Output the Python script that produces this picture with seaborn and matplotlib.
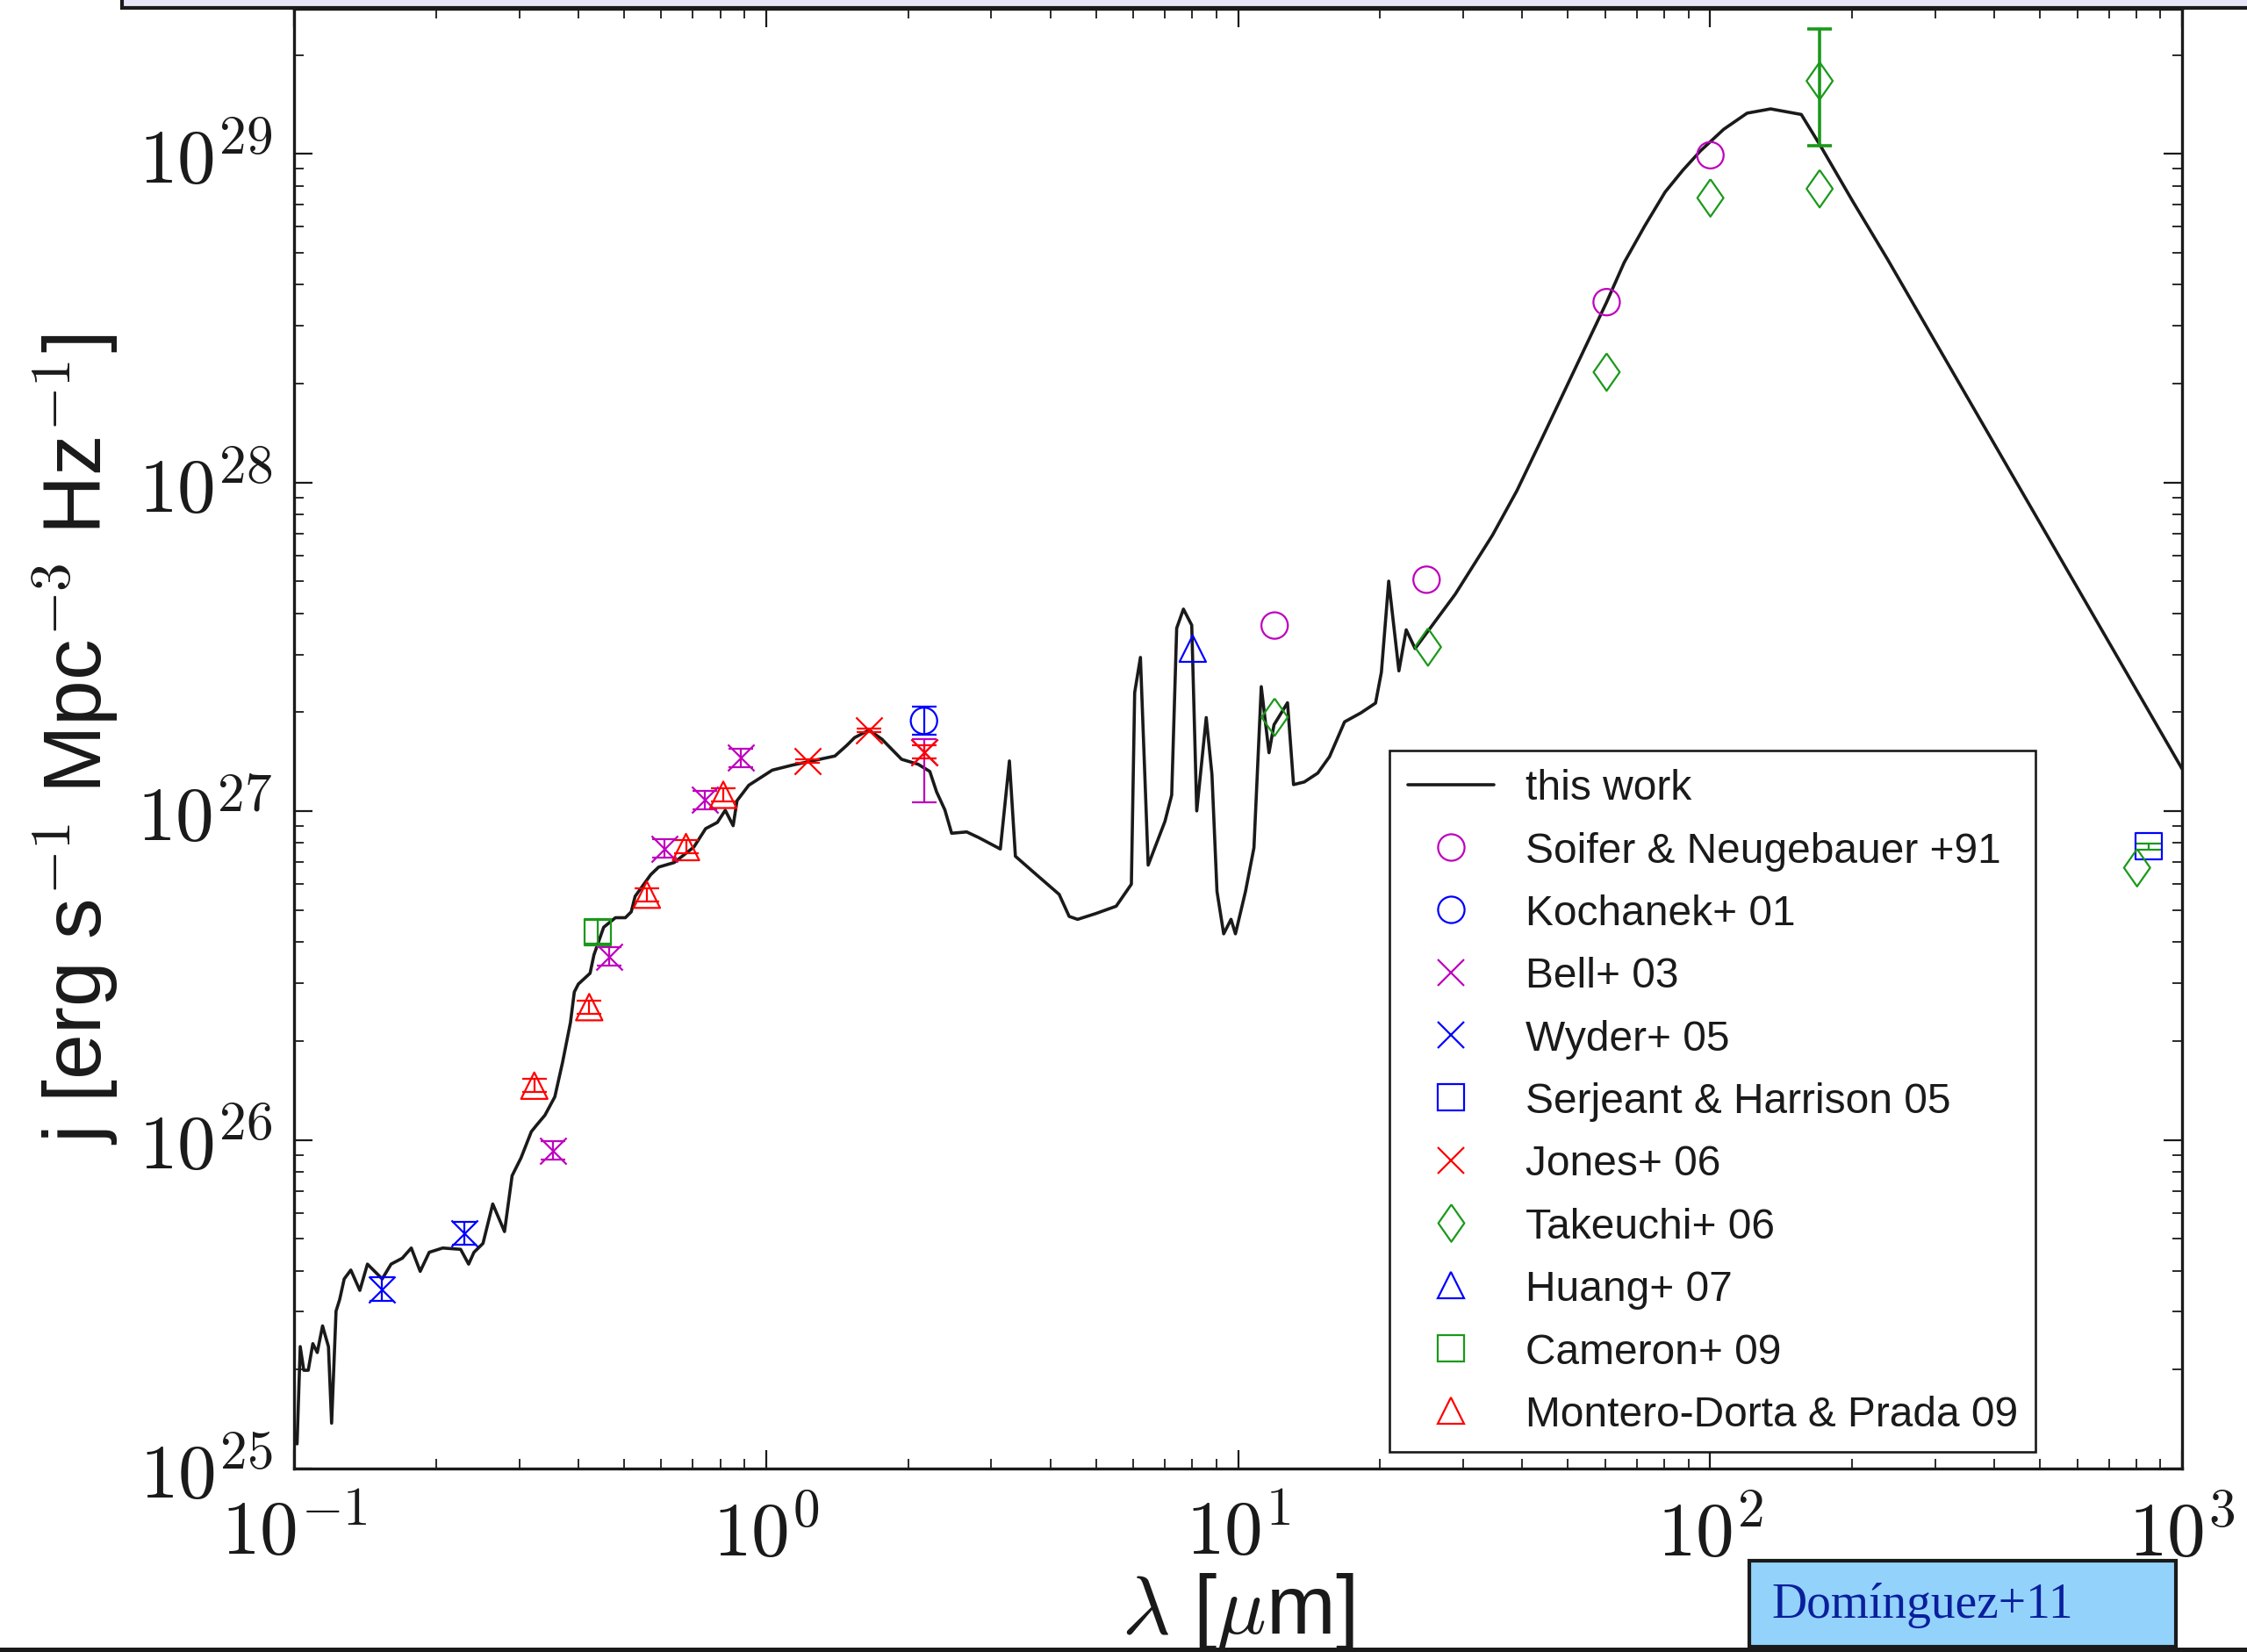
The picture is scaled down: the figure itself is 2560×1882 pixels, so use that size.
import numpy as np
import pandas as pd
import matplotlib
matplotlib.use("Agg")
import matplotlib.pyplot as plt
import seaborn as sns
from matplotlib.lines import Line2D
from matplotlib.patches import Rectangle
from matplotlib.ticker import LogLocator, FuncFormatter, NullFormatter

# ---------------- data (log10 values) ----------------
curve_loglam = [-0.9936, -0.9869, -0.9794, -0.9699, -0.9602, -0.9508, -0.9396, -0.9271, -0.9204,
                -0.9110, -0.9034, -0.8937, -0.8797, -0.8606, -0.8445, -0.8132, -0.7944, -0.7707,
                -0.7516, -0.7327, -0.7136, -0.6850, -0.6471, -0.6301, -0.6188, -0.5997, -0.5790,
                -0.5541, -0.5380, -0.5192, -0.4973, -0.4849, -0.4685, -0.4475, -0.4311, -0.4144,
                -0.4062, -0.3977, -0.3728, -0.3646, -0.3440, -0.3191, -0.2981, -0.2856, -0.2774,
                -0.2443, -0.2276, -0.1945, -0.1529, -0.1280, -0.1031, -0.0864, -0.0697, -0.0615,
                -0.0366, 0.0132, 0.0548, 0.1459, 0.1708, 0.1876, 0.2182, 0.2456, 0.2872, 0.3221,
                0.3470, 0.3613, 0.3789, 0.3932, 0.4251, 0.4503, 0.4964, 0.5156, 0.5283, 0.5712,
                0.6210, 0.6422, 0.6601, 0.6993, 0.7418, 0.7740, 0.7810, 0.7932, 0.8096, 0.8451,
                0.8594, 0.8700, 0.8843, 0.9019, 0.9125, 0.9326, 0.9447, 0.9554, 0.9696, 0.9851,
                0.9945, 1.0158, 1.0337, 1.0492, 1.0656, 1.0762, 1.1048, 1.1176, 1.1403, 1.1689,
                1.1938, 1.2257, 1.2600, 1.2913, 1.3037, 1.3192, 1.3408, 1.3563, 1.3751, 1.4600,
                1.5391, 1.5907, 1.6445, 1.7809, 1.8182, 1.8617, 1.9048, 1.9422, 1.9795, 2.0290,
                2.0785, 2.1283, 2.1933, 2.2334, 2.3018, 2.3762, 3.0000]
curve_logj = [25.075, 25.371, 25.299, 25.299, 25.380, 25.353, 25.434, 25.371, 25.138,
              25.479, 25.514, 25.577, 25.604, 25.542, 25.622, 25.577, 25.622, 25.640,
              25.671, 25.600, 25.658, 25.671, 25.667, 25.622, 25.658, 25.685, 25.805,
              25.721, 25.891, 25.945, 26.025, 26.047, 26.075, 26.131, 26.236, 26.357,
              26.450, 26.474, 26.507, 26.563, 26.647, 26.676, 26.676, 26.694, 26.741,
              26.807, 26.830, 26.844, 26.891, 26.947, 26.966, 27.003, 26.956, 27.032,
              27.079, 27.125, 27.140, 27.168, 27.200, 27.224, 27.247, 27.219, 27.158, 27.143,
              27.121, 27.059, 27.004, 26.933, 26.937, 26.920, 26.885, 27.153, 26.863, 26.809,
              26.747, 26.680, 26.671, 26.689, 26.711, 26.778, 27.361, 27.468, 26.836, 26.969,
              27.049, 27.557, 27.615, 27.566, 27.001, 27.285, 27.112, 26.756, 26.627, 26.671,
              26.627, 26.756, 26.889, 27.379, 27.178, 27.263, 27.330, 27.081, 27.089, 27.116,
              27.166, 27.272, 27.299, 27.329, 27.423, 27.700, 27.427, 27.552, 27.495, 27.660,
              27.840, 27.975, 28.136, 28.549, 28.670, 28.781, 28.884, 28.950, 29.009, 29.075,
              29.124, 29.137, 29.120, 29.026, 28.857, 28.679, 27.129]

soifer_loglam = [1.0775, 1.3994, 1.7809, 2.0008]
soifer_logj = [27.565, 27.7045, 28.549, 28.996]

kochanek_loglam = [0.3346]
kochanek_logj = [27.275]
kochanek_err = [0.042]

bell_loglam = [-0.4518, -0.3315, -0.2152, -0.1295, -0.0533, 0.3346]
bell_logj = [25.968, 26.558, 26.886, 27.034, 27.163, 27.180]
bell_err_lo = [0.028, 0.028, 0.028, 0.028, 0.028, 0.153]
bell_err_hi = [0.028, 0.028, 0.028, 0.028, 0.028, 0.039]

wyder_loglam = [-0.8132, -0.6395]
wyder_logj = [25.546, 25.716]
wyder_err = [0.035, 0.035]

serjeant_loglam = [2.9301]
serjeant_logj = [26.893]
serjeant_err = [0.009]

jones_loglam = [0.0879, 0.2182, 0.3346]
jones_logj = [27.1535, 27.247, 27.180]
jones_err = [0.005, 0.005, 0.02]

takeuchi_loglam = [1.0775, 1.4024, 1.7809, 2.0008, 2.2322, 2.2322, 2.9047]
takeuchi_logj = [27.286, 27.4995, 28.336, 28.866, 28.894, 29.222, 26.828]
takeuchi_err_lo = [0, 0, 0, 0, 0, 0.196, 0]
takeuchi_err_hi = [0, 0, 0, 0, 0, 0.1575, 0]

huang_loglam = [0.904]
huang_logj = [27.4947]

cameron_loglam = [-0.3561]
cameron_logj = [26.633]
cameron_err = [0.035]

montero_loglam = [-0.491, -0.3746, -0.2525, -0.1696, -0.0906]
montero_logj = [26.165, 26.404, 26.746, 26.891, 27.050]
montero_err = [0.02, 0.02, 0.02, 0.02, 0.02]

legend_labels = ["this work", "Soifer & Neugebauer +91", "Kochanek+ 01", "Bell+ 03",
                 "Wyder+ 05", "Serjeant & Harrison 05", "Jones+ 06", "Takeuchi+ 06",
                 "Huang+ 07", "Cameron+ 09", "Montero-Dorta & Prada 09"]

# ---------------- style ----------------
sns.set_theme(style="ticks")
plt.rcParams["font.family"] = ["Liberation Sans", "DejaVu Sans"]
plt.rcParams["mathtext.fontset"] = "cm"

MAG = (0.75, 0.0, 0.75)
BLU = (0.0, 0.0, 1.0)
RED = (1.0, 0.0, 0.0)
GRN = (0.1, 0.6, 0.1)

W, H = 2560, 1883
fig = plt.figure(figsize=(W / 100, H / 100), dpi=100, facecolor="white")
ax = fig.add_axes([335 / W, (H - 1674) / H, (2486 - 335) / W, (1674 - 11) / H])
ax.set_facecolor("white")
ax.set_xscale("log")
ax.set_yscale("log")

def lin(a):
    return 10.0 ** np.asarray(a, dtype=float)

# model curve
curve = pd.DataFrame({"lam": lin(curve_loglam), "j": lin(curve_logj)})
sns.lineplot(data=curve, x="lam", y="j", ax=ax, color="k", linewidth=2.6,
             sort=False, estimator=None, legend=False, zorder=2)

S = 470
LW = 1.6
diamond = [(0, 1), (0.7, 0), (0, -1), (-0.7, 0), (0, 1)]

def errbar(loglam, logj, lo, hi, color, lw=1.6, cap=10):
    y = lin(logj)
    lo_v = y - lin(np.asarray(logj) - np.asarray(lo))
    hi_v = lin(np.asarray(logj) + np.asarray(hi)) - y
    ax.errorbar(lin(loglam), y, yerr=[lo_v, hi_v], fmt="none", ecolor=color,
                elinewidth=lw, capsize=cap, capthick=lw, zorder=3)

def hollow(loglam, logj, marker, color, s=S):
    df = pd.DataFrame({"lam": lin(loglam), "j": lin(logj)})
    sns.scatterplot(data=df, x="lam", y="j", ax=ax, marker=marker, s=s, color=color,
                    facecolors="none", edgecolor=color, linewidth=LW, zorder=4, legend=False)

def cross(loglam, logj, color):
    df = pd.DataFrame({"lam": lin(loglam), "j": lin(logj)})
    sns.scatterplot(data=df, x="lam", y="j", ax=ax, marker="x", s=S, color=color,
                    linewidth=LW, zorder=4, legend=False)

# error bars
errbar(kochanek_loglam, kochanek_logj, kochanek_err, kochanek_err, BLU)
errbar(bell_loglam, bell_logj, bell_err_lo, bell_err_hi, MAG)
errbar(wyder_loglam, wyder_logj, wyder_err, wyder_err, BLU)
errbar(serjeant_loglam, serjeant_logj, serjeant_err, serjeant_err, GRN)
errbar(jones_loglam, jones_logj, jones_err, jones_err, RED)
errbar(cameron_loglam, cameron_logj, cameron_err, cameron_err, GRN)
errbar(montero_loglam, montero_logj, montero_err, montero_err, RED)
errbar(takeuchi_loglam[5:6], takeuchi_logj[5:6], takeuchi_err_lo[5:6], takeuchi_err_hi[5:6], GRN, lw=2.6)

# markers
hollow(soifer_loglam, soifer_logj, "o", MAG)
hollow(kochanek_loglam, kochanek_logj, "o", BLU)
cross(bell_loglam, bell_logj, MAG)
cross(wyder_loglam, wyder_logj, BLU)
hollow(serjeant_loglam, serjeant_logj, "s", BLU)
cross(jones_loglam, jones_logj, RED)
hollow(takeuchi_loglam, takeuchi_logj, diamond, GRN, s=940)
hollow(huang_loglam, huang_logj, "^", BLU)
hollow(cameron_loglam, cameron_logj, "s", GRN)
hollow(montero_loglam, montero_logj, "^", RED)

# axes
ax.set_xlim(0.1, 1000)
ax.set_ylim(1e25, 10 ** 29.4416)
for sp in ax.spines.values():
    sp.set_visible(True)
    sp.set_color("k")
    sp.set_linewidth(2.4)
ax.xaxis.set_major_locator(LogLocator(base=10, numticks=20))
ax.xaxis.set_minor_locator(LogLocator(base=10, subs=np.arange(2, 10), numticks=100))
ax.yaxis.set_major_locator(LogLocator(base=10, numticks=20))
ax.yaxis.set_minor_locator(LogLocator(base=10, subs=np.arange(2, 10), numticks=100))
fmt = FuncFormatter(lambda v, p: r"$10^{%d}$" % int(round(np.log10(v))))
ax.xaxis.set_major_formatter(fmt)
ax.yaxis.set_major_formatter(fmt)
ax.xaxis.set_minor_formatter(NullFormatter())
ax.yaxis.set_minor_formatter(NullFormatter())
ax.tick_params(which="both", direction="in", top=True, right=True, colors="k")
ax.tick_params(which="major", length=15, width=1.6, labelsize=63)
ax.tick_params(which="minor", length=8, width=1.3)
ax.tick_params(axis="x", which="major", pad=24)
ax.tick_params(axis="y", which="major", pad=18)
ax.grid(False)

ax.set_xlabel(r"$\lambda$ [$\mu$m]", fontsize=68, color="k", labelpad=0)
ax.set_ylabel(r"j [erg s$^{-1}$ Mpc$^{-3}$ Hz$^{-1}$]", fontsize=67, color="k", labelpad=14)

# legend
handles = [Line2D([], [], color="k", lw=2.6)]
specs = [("o", MAG, 21.7), ("o", BLU, 21.7), ("x", MAG, 21.7), ("x", BLU, 21.7), ("s", BLU, 21.7),
         ("x", RED, 21.7), (diamond, GRN, 30.5), ("^", BLU, 21.7), ("s", GRN, 21.7), ("^", RED, 21.7)]
for m, c, ms in specs:
    handles.append(Line2D([], [], ls="none", marker=m, markersize=ms, markerfacecolor="none",
                          markeredgecolor=c, color=c, markeredgewidth=LW))
leg = ax.legend(handles, legend_labels, loc="lower right",
                bbox_to_anchor=((2319 - 335) / 2151, (1674 - 1655) / 1663),
                borderaxespad=0, fontsize=34.5, frameon=True, fancybox=False, shadow=False,
                framealpha=1, edgecolor="k", facecolor="white", numpoints=1,
                handlelength=2.05, handletextpad=0.75, labelspacing=0.55, borderpad=0.42)
leg.get_frame().set_linewidth(1.9)
for t in leg.get_texts():
    t.set_color("k")

# slide decorations
fig.patches.append(Rectangle((139 / W, 1 - 10 / H), 1.0, 0.1, transform=fig.transFigure,
                             facecolor="#e6e6f8", edgecolor="k", linewidth=3, zorder=5))
fig.patches.append(Rectangle((0, 0), 1.0, 5 / H, transform=fig.transFigure,
                             facecolor="k", edgecolor="none", zorder=5))
fig.patches.append(Rectangle((1993 / W, 1 - 1877 / H), (2479 - 1993) / W, (1877 - 1779) / H,
                             transform=fig.transFigure, facecolor="#93d2fb", edgecolor="k",
                             linewidth=3, zorder=6))
fig.text(2018 / W, 1 - 1843 / H, "Domínguez+11", family=["Liberation Serif", "DejaVu Serif"],
         fontsize=40, color="#0a1f9c", va="baseline", ha="left", zorder=7)

fig.savefig("out.png", dpi=100, facecolor="white")
